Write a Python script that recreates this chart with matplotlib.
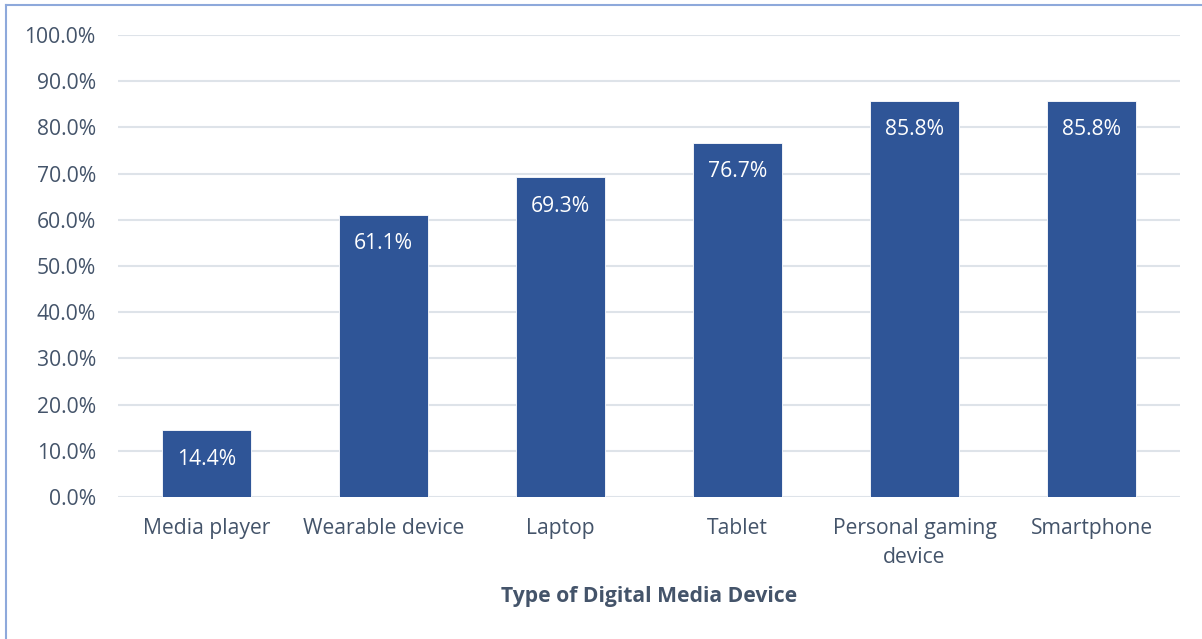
import matplotlib
matplotlib.use("Agg")
import matplotlib.pyplot as plt
from matplotlib.lines import Line2D

plt.rcParams['font.family'] = ['Open Sans', 'DejaVu Sans']

devices = ["Media player", "Wearable device", "Laptop", "Tablet",
           "Personal gaming\ndevice", "Smartphone"]
shares = [14.4, 61.1, 69.3, 76.7, 85.8, 85.8]
yticks = [0, 10, 20, 30, 40, 50, 60, 70, 80, 90, 100]

text_col = "#44546A"
bar_col = "#2F5597"
grid_col = "#DEE3E9"
fs = 15.2

fig = plt.figure(figsize=(12.02, 6.39), dpi=100)
ax = fig.add_axes([0.0982, 0.2222, 0.8835, 0.7230])

x = list(range(len(devices)))
bars = ax.bar(x, shares, width=0.5, color=bar_col, edgecolor="white",
              linewidth=0.6, zorder=3)

for b, v in zip(bars, shares):
    ax.annotate(f"{v:.1f}%", (b.get_x() + b.get_width() / 2, v),
                xytext=(0, -21), textcoords="offset points",
                ha="center", va="center", color="white", fontsize=fs)

ax.set_xlim(-0.5, len(devices) - 0.5)
ax.set_ylim(0, 100)
ax.set_yticks(yticks)
ax.set_yticklabels([f"{t:.1f}%" for t in yticks])
ax.set_xticks(x)
ax.set_xticklabels(devices, linespacing=1.5)
ax.tick_params(axis="both", length=0, colors=text_col, labelsize=fs)
ax.tick_params(axis="y", pad=16)
ax.tick_params(axis="x", pad=15)
ax.yaxis.grid(True, color=grid_col, linewidth=1.5, zorder=0)
for s in ax.spines.values():
    s.set_visible(False)

ax.set_xlabel("Type of Digital Media Device", fontsize=fs,
              fontweight="bold", color=text_col, labelpad=13)

# outer chart border (left and top edges visible)
fig.add_artist(Line2D([6 / 1202, 6 / 1202], [0, 1 - 5 / 639],
                      transform=fig.transFigure, color="#8EA9DB", lw=1.5))
fig.add_artist(Line2D([6 / 1202, 1], [1 - 5 / 639, 1 - 5 / 639],
                      transform=fig.transFigure, color="#8EA9DB", lw=1.5))

fig.savefig("out.png", dpi=100)
